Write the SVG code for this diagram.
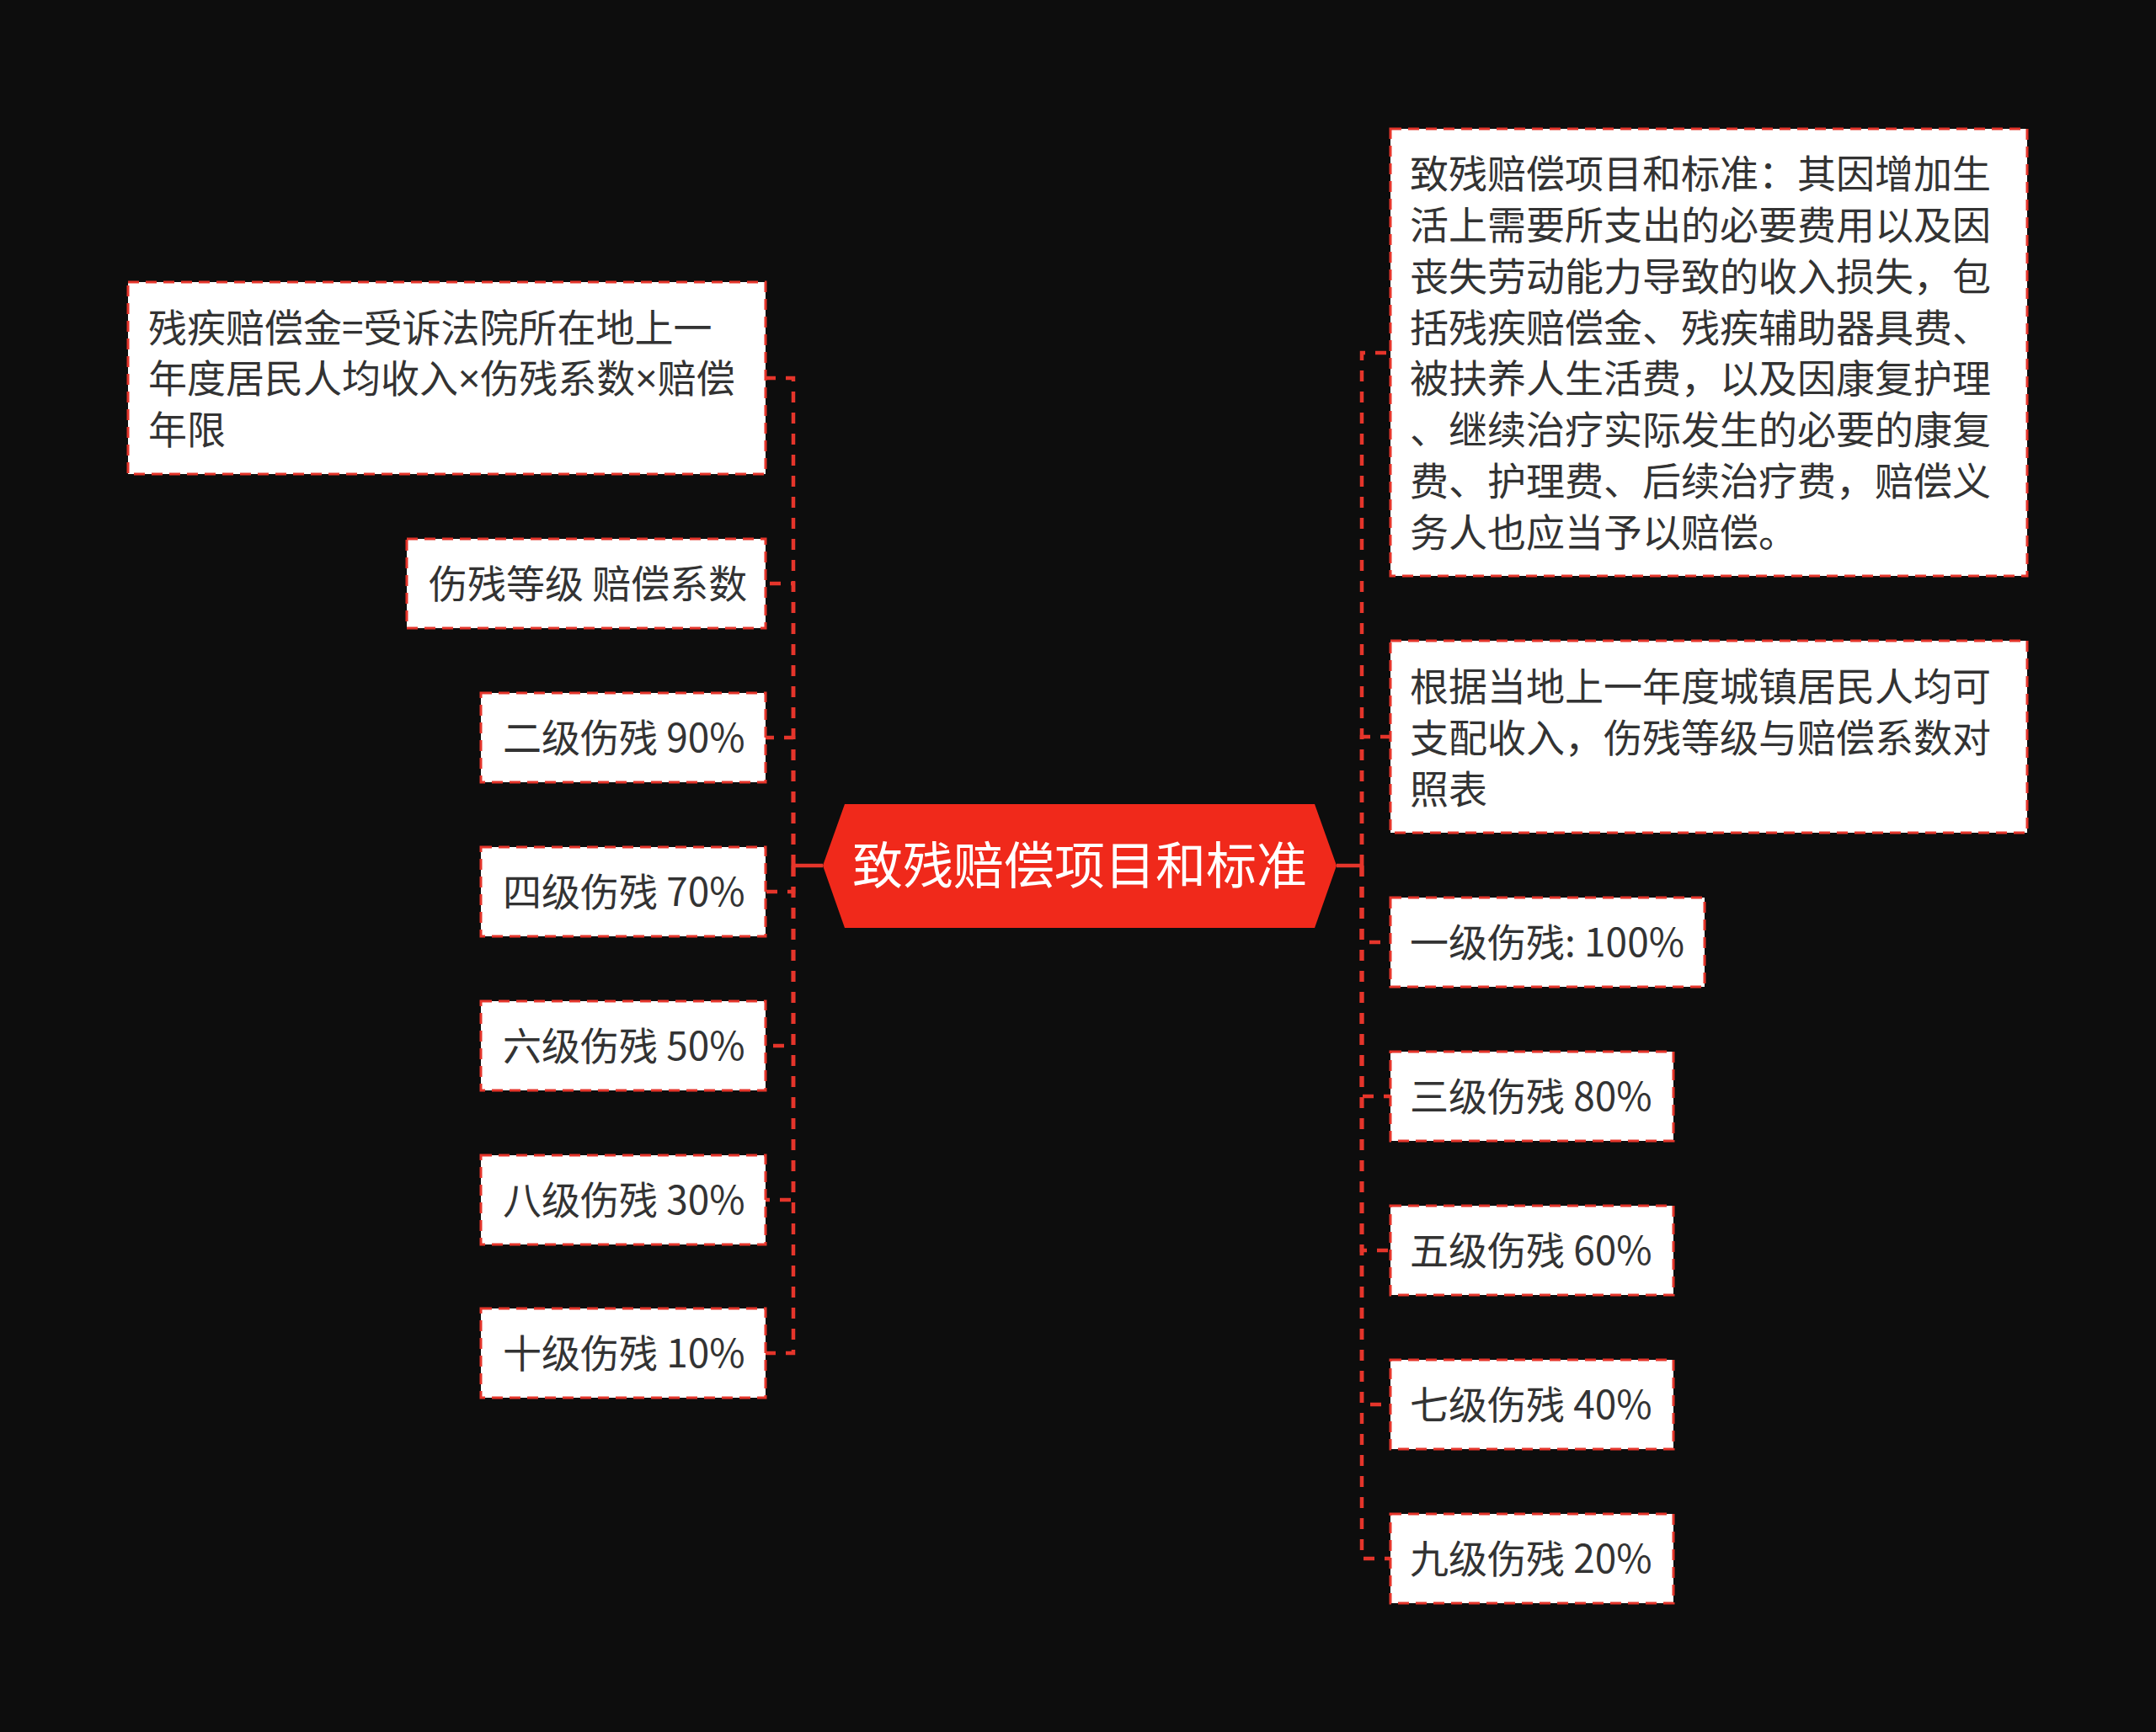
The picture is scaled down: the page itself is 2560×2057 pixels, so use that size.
<svg xmlns="http://www.w3.org/2000/svg" width="2560" height="2057" viewBox="0 0 2560 2057">
<style>
.node rect{fill:#ffffff;stroke:#e5352b;stroke-width:3;stroke-dasharray:13 8}
.t{font-family:"Noto Sans CJK SC","Noto Sans",sans-serif;font-size:46px;fill:#333333}
.x{font-family:"Noto Sans","DejaVu Sans",sans-serif}
.ct{font-family:"Noto Sans CJK SC","Noto Sans",sans-serif;font-size:60px;fill:#ffffff}
.c{fill:none;stroke:#e5352b;stroke-width:4.5;stroke-dasharray:13 12}
.s{fill:none;stroke:#e5352b;stroke-width:4.5}
</style>
<rect x="0" y="0" width="2560" height="2057" fill="#0d0d0d"/>
<g id="connectors">
<line class="s" x1="942" y1="1028" x2="977" y2="1028"/>
<line class="s" x1="1587" y1="1028" x2="1617" y2="1028"/>
<path class="c" d="M942 1028 V449 H909"/>
<path class="c" d="M942 1028 V693 H909"/>
<path class="c" d="M942 1028 V876 H909"/>
<path class="c" d="M942 1028 V1059 H909"/>
<path class="c" d="M942 1028 V1242 H909"/>
<path class="c" d="M942 1028 V1425 H909"/>
<path class="c" d="M942 1028 V1607 H909"/>
<path class="c" d="M1617 1028 V419 H1651"/>
<path class="c" d="M1617 1028 V875 H1651"/>
<path class="c" d="M1617 1028 V1119 H1651"/>
<path class="c" d="M1617 1028 V1302 H1651"/>
<path class="c" d="M1617 1028 V1485 H1651"/>
<path class="c" d="M1617 1028 V1668 H1651"/>
<path class="c" d="M1617 1028 V1851 H1651"/>
</g>
<g id="center">
<polygon points="977,1028 1003,955 1561,955 1587,1028 1561,1102 1003,1102" fill="#f0291b"/>
<text class="ct" x="1282" y="1050" text-anchor="middle">致残赔偿项目和标准</text>
</g>
<g id="L1" class="node">
<rect x="152" y="335" width="757" height="228"/>
<text class="t" x="176" y="406">残疾赔偿金=受诉法院所在地上一</text>
<text class="t" x="176" y="466">年度居民人均收入<tspan class="x">×</tspan>伤残系数<tspan class="x">×</tspan>赔偿</text>
<text class="t" x="176" y="527">年限</text>
</g>
<g id="L2" class="node">
<rect x="483" y="640" width="426" height="106"/>
<text class="t" x="509" y="710">伤残等级 赔偿系数</text>
</g>
<g id="L3" class="node">
<rect x="571" y="823" width="338" height="106"/>
<text class="t" x="597" y="893">二级伤残 90%</text>
</g>
<g id="L4" class="node">
<rect x="571" y="1006" width="338" height="106"/>
<text class="t" x="597" y="1076">四级伤残 70%</text>
</g>
<g id="L5" class="node">
<rect x="571" y="1189" width="338" height="106"/>
<text class="t" x="597" y="1259">六级伤残 50%</text>
</g>
<g id="L6" class="node">
<rect x="571" y="1372" width="338" height="106"/>
<text class="t" x="597" y="1442">八级伤残 30%</text>
</g>
<g id="L7" class="node">
<rect x="571" y="1554" width="338" height="106"/>
<text class="t" x="597" y="1624">十级伤残 10%</text>
</g>
<g id="R1" class="node">
<rect x="1651" y="153" width="756" height="531"/>
<text class="t" x="1674" y="223">致残赔偿项目和标准：其因增加生</text>
<text class="t" x="1674" y="284">活上需要所支出的必要费用以及因</text>
<text class="t" x="1674" y="345">丧失劳动能力导致的收入损失，包</text>
<text class="t" x="1674" y="406">括残疾赔偿金、残疾辅助器具费、</text>
<text class="t" x="1674" y="466">被扶养人生活费，以及因康复护理</text>
<text class="t" x="1674" y="527">、继续治疗实际发生的必要的康复</text>
<text class="t" x="1674" y="588">费、护理费、后续治疗费，赔偿义</text>
<text class="t" x="1674" y="649">务人也应当予以赔偿。</text>
</g>
<g id="R2" class="node">
<rect x="1651" y="761" width="756" height="228"/>
<text class="t" x="1674" y="832">根据当地上一年度城镇居民人均可</text>
<text class="t" x="1674" y="893">支配收入，伤残等级与赔偿系数对</text>
<text class="t" x="1674" y="954">照表</text>
</g>
<g id="R3" class="node">
<rect x="1651" y="1066" width="373" height="106"/>
<text class="t" x="1674" y="1136">一级伤残: 100%</text>
</g>
<g id="R4" class="node">
<rect x="1651" y="1249" width="336" height="106"/>
<text class="t" x="1674" y="1319">三级伤残 80%</text>
</g>
<g id="R5" class="node">
<rect x="1651" y="1432" width="336" height="106"/>
<text class="t" x="1674" y="1502">五级伤残 60%</text>
</g>
<g id="R6" class="node">
<rect x="1651" y="1615" width="336" height="106"/>
<text class="t" x="1674" y="1685">七级伤残 40%</text>
</g>
<g id="R7" class="node">
<rect x="1651" y="1798" width="336" height="106"/>
<text class="t" x="1674" y="1868">九级伤残 20%</text>
</g>
</svg>
